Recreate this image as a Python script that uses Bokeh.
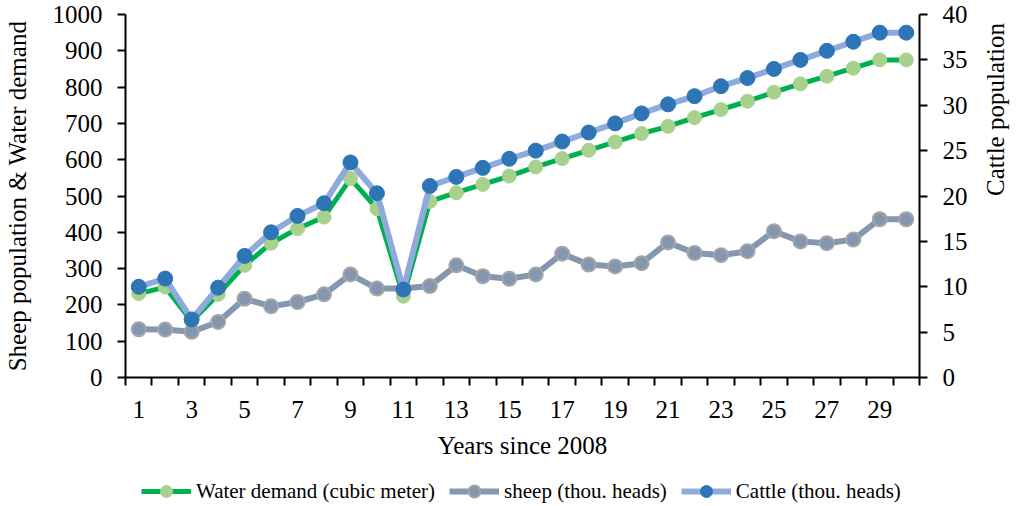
import math
from bokeh.plotting import figure
from bokeh.layouts import column
from bokeh.models import (Range1d, LinearAxis, FixedTicker, SingleIntervalTicker,
                          Legend, LegendItem)
from bokeh.embed import file_html
from bokeh.resources import INLINE

# ---- data ----
years = list(range(1, 31))
water_demand = [231, 249, 155, 229, 309, 370, 410, 442, 548, 465, 224, 485, 509, 532, 555,
                580, 603, 626, 649, 672, 692, 716, 738, 761, 786, 809, 830, 852, 875, 875]
sheep = [133, 132, 126, 153, 217, 196, 208, 229, 284, 245, 245, 252, 309, 279, 272,
         284, 341, 311, 306, 315, 372, 343, 337, 348, 403, 375, 370, 380, 436, 436]
cattle = [10.0, 10.9, 6.4, 9.9, 13.4, 16.0, 17.8, 19.2, 23.7, 20.3, 9.7, 21.1, 22.1, 23.1, 24.1,
          25.0, 26.0, 27.0, 28.0, 29.1, 30.1, 31.0, 32.1, 33.0, 34.0, 35.0, 36.0, 37.0, 38.0, 38.0]
x_tick_values = list(range(1, 30, 2))
series_labels = ["Water demand (cubic meter)", "sheep (thou. heads)", "Cattle (thou. heads)"]

FONT = "Liberation Serif"
FS = "25px"
LEGEND_FS = "21px"

WATER_LINE, WATER_MARK = "#00B050", "#A9D18E"
SHEEP_LINE, SHEEP_MARK, SHEEP_EDGE = "#8497B0", "#8497B0", "#A5A5A5"
CATTLE_LINE, CATTLE_MARK = "#8FAADC", "#2E75B6"

p = figure(width=1025, height=466, output_backend="svg", toolbar_location=None,
           x_range=Range1d(0.5, 30.5), y_range=Range1d(0, 1000),
           min_border_left=123, min_border_right=103, min_border_top=14, min_border_bottom=89)
p.extra_y_ranges = {"cattle": Range1d(0, 40)}
p.outline_line_color = None
p.xgrid.visible = False
p.ygrid.visible = False
p.background_fill_color = "white"

# x axis
xa = p.xaxis[0]
xa.ticker = FixedTicker(ticks=x_tick_values, minor_ticks=[i + 0.5 for i in range(0, 31)])
xa.major_tick_out = 0
xa.major_tick_in = 0
xa.minor_tick_out = 8
xa.minor_tick_in = 0
xa.minor_tick_line_color = "black"
xa.minor_tick_line_width = 2
xa.axis_line_width = 2
xa.major_label_standoff = 15
xa.axis_label = "Years since 2008"
xa.axis_label_standoff = 11

# left axis
ya = p.yaxis[0]
ya.ticker = SingleIntervalTicker(interval=100)
ya.minor_tick_line_color = None
ya.major_tick_out = 8
ya.major_tick_in = 0
ya.major_tick_line_width = 2
ya.axis_line_width = 2
ya.major_label_standoff = 15
ya.axis_label = "Sheep population & Water demand"
ya.axis_label_standoff = 19

# right axis
ra = LinearAxis(y_range_name="cattle", ticker=SingleIntervalTicker(interval=5))
ra.minor_tick_line_color = None
ra.major_tick_out = 8
ra.major_tick_in = 0
ra.major_tick_line_width = 2
ra.axis_line_width = 2
ra.major_label_standoff = 15
ra.axis_label = "Cattle population"
ra.axis_label_standoff = 25
try:
    ra.axis_label_orientation = math.pi / 2
except Exception:
    pass
p.add_layout(ra, "right")

for ax in (xa, ya, ra):
    ax.major_label_text_font = FONT
    ax.major_label_text_font_size = FS
    ax.major_label_text_color = "black"
    ax.axis_label_text_font = FONT
    ax.axis_label_text_font_size = FS
    ax.axis_label_text_font_style = "normal"
    ax.axis_label_text_color = "black"
    ax.axis_line_color = "black"
    ax.major_tick_line_color = "black"

# series
p.line(years, water_demand, line_color=WATER_LINE, line_width=5)
p.scatter(years, water_demand, size=14, fill_color=WATER_MARK, line_color=WATER_MARK)
p.line(years, sheep, line_color=SHEEP_LINE, line_width=6)
p.scatter(years, sheep, size=14, fill_color=SHEEP_MARK, line_color=SHEEP_EDGE, line_width=2)
p.line(years, cattle, line_color=CATTLE_LINE, line_width=6, y_range_name="cattle")
p.scatter(years, cattle, size=15, fill_color=CATTLE_MARK, line_color=CATTLE_MARK,
          y_range_name="cattle")

# legend strip: a separate, axis-less figure holding only the legend.
# Its renderers carry the real series but its ranges keep them out of view.
q = figure(width=1025, height=40, output_backend="svg", toolbar_location=None,
           x_axis_location=None, y_axis_location=None,
           x_range=Range1d(-20, -19), y_range=Range1d(-20, -19),
           min_border=0, min_border_left=0, min_border_right=0,
           min_border_top=0, min_border_bottom=0)
q.xgrid.visible = False
q.ygrid.visible = False
q.outline_line_color = None
lw1 = q.line(years, water_demand, line_color=WATER_LINE, line_width=5)
lm1 = q.scatter(years, water_demand, fill_color=WATER_MARK, line_color=WATER_MARK)
lw2 = q.line(years, sheep, line_color=SHEEP_LINE, line_width=6)
lm2 = q.scatter(years, sheep, fill_color=SHEEP_MARK, line_color=SHEEP_EDGE, line_width=2)
lw3 = q.line(years, cattle, line_color=CATTLE_LINE, line_width=6)
lm3 = q.scatter(years, cattle, fill_color=CATTLE_MARK, line_color=CATTLE_MARK)

legend = Legend(items=[LegendItem(label=series_labels[0], renderers=[lw1, lm1]),
                       LegendItem(label=series_labels[1], renderers=[lw2, lm2]),
                       LegendItem(label=series_labels[2], renderers=[lw3, lm3])],
                orientation="horizontal", location=(16, 0), padding=0, margin=0,
                spacing=14, glyph_width=50, glyph_height=30, label_standoff=5,
                border_line_color=None, background_fill_alpha=0,
                label_text_font=FONT, label_text_font_size=LEGEND_FS, label_text_color="black")
q.add_layout(legend)

layout = column(p, q, spacing=0)
open("out.html", "w").write(file_html(layout, INLINE))
